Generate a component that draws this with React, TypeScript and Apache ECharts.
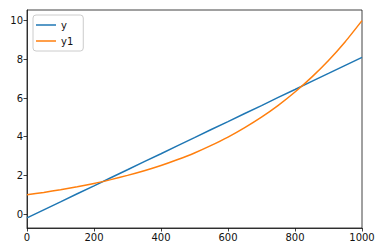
import React, { useEffect, useRef } from "react";
import * as echarts from "echarts";

const xValues = [0, 50, 100, 150, 200, 250, 300, 350, 400, 450, 500, 550, 600, 650, 700, 750, 800, 850, 900, 950, 1000];
const yLinear = [-0.2, 0.22, 0.63, 1.05, 1.46, 1.88, 2.29, 2.71, 3.12, 3.54, 3.95, 4.37, 4.78, 5.2, 5.61, 6.03, 6.44, 6.86, 7.27, 7.69, 8.1];
const yExp = [1.0, 1.12, 1.26, 1.41, 1.58, 1.78, 2.0, 2.24, 2.51, 2.82, 3.16, 3.55, 3.98, 4.47, 5.01, 5.62, 6.31, 7.08, 7.94, 8.91, 10.0];
const seriesNames = ["y", "y1"];
const xTicks = [0, 200, 400, 600, 800, 1000];
const yTicks = [0, 2, 4, 6, 8, 10];

export default function App() {
  const ref = useRef<HTMLDivElement>(null);
  useEffect(() => {
    if (!ref.current) return;
    const chart = echarts.init(ref.current, null, { renderer: "svg" });
    const font = { fontFamily: "DejaVu Sans", fontSize: 10, color: "#111" };
    chart.setOption({
      animation: false,
      backgroundColor: "#fff",
      grid: {
        left: 27,
        right: 19,
        top: 10,
        bottom: 24,
        show: true,
        borderColor: "#111",
        borderWidth: 0.8,
        backgroundColor: "transparent",
      },
      legend: {
        orient: "vertical",
        left: 33,
        top: 15,
        padding: [4, 10, 4, 3],
        icon: "rect",
        itemWidth: 20,
        itemHeight: 1.5,
        itemGap: 4,
        borderColor: "#cccccc",
        borderWidth: 1,
        borderRadius: 3,
        backgroundColor: "rgba(255,255,255,0.8)",
        textStyle: { ...font, lineHeight: 12 },
        data: seriesNames,
      },
      xAxis: {
        type: "value",
        min: 0,
        max: 1000,
        interval: 200,
        splitLine: { show: false },
        axisLine: { show: true, onZero: false, lineStyle: { color: "#111", width: 0.8 } },
        axisTick: { show: true, length: 3.5, lineStyle: { color: "#111", width: 0.8 }, customValues: xTicks },
        axisLabel: { ...font, margin: 4, customValues: xTicks, formatter: (v: number) => String(v) },
      },
      yAxis: {
        type: "value",
        min: -0.72,
        max: 10.55,
        splitLine: { show: false },
        axisLine: { show: true, onZero: false, lineStyle: { color: "#111", width: 0.8 } },
        axisTick: { show: true, length: 3.5, lineStyle: { color: "#111", width: 0.8 }, customValues: yTicks },
        axisLabel: { ...font, margin: 4, customValues: yTicks, formatter: (v: number) => String(v) },
      },
      series: [
        {
          name: seriesNames[0],
          type: "line",
          symbol: "none",
          data: xValues.map((x, i) => [x, yLinear[i]]),
          lineStyle: { color: "#1f77b4", width: 1.5 },
          itemStyle: { color: "#1f77b4" },
        },
        {
          name: seriesNames[1],
          type: "line",
          symbol: "none",
          smooth: 0.2,
          data: xValues.map((x, i) => [x, yExp[i]]),
          lineStyle: { color: "#ff7f0e", width: 1.5 },
          itemStyle: { color: "#ff7f0e" },
        },
      ],
    });
    return () => chart.dispose();
  }, []);
  return (
    <div
      ref={ref}
      style={{ position: "fixed", left: 0, top: 0, width: 381, height: 252 }}
    />
  );
}
